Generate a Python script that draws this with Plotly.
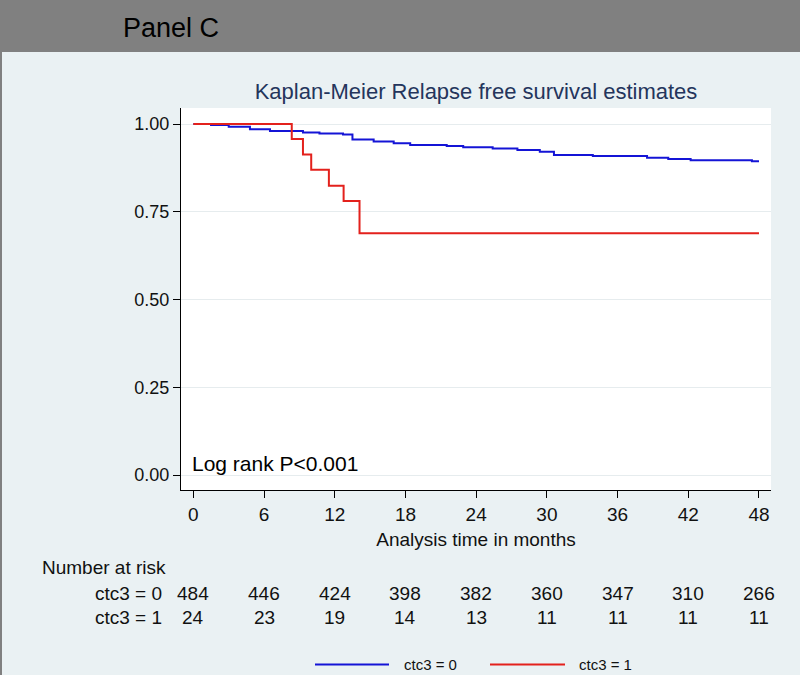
import plotly.graph_objects as go

# ---- data ----
blue_time = [0, 1.5, 3.0, 4.8, 6.5, 9.3, 10.7, 12.7, 13.5, 15.3, 17.0, 18.4, 21.5,
             22.9, 25.4, 27.5, 29.4, 30.6, 33.9, 38.5, 40.3, 42.2, 47.4, 48]
blue_surv = [1.0, 0.997, 0.992, 0.985, 0.980, 0.976, 0.973, 0.970, 0.956, 0.950,
             0.945, 0.940, 0.937, 0.934, 0.930, 0.926, 0.921, 0.912, 0.909, 0.904,
             0.900, 0.897, 0.894, 0.894]
red_time = [0, 8.35, 9.3, 10.0, 11.5, 12.75, 14.1, 48]
red_surv = [1.0, 0.957, 0.913, 0.870, 0.824, 0.781, 0.689, 0.689]

x_ticks = [0, 6, 12, 18, 24, 30, 36, 42, 48]
y_ticks = [0.0, 0.25, 0.5, 0.75, 1.0]
y_tick_labels = ["0.00", "0.25", "0.50", "0.75", "1.00"]
risk_group0 = [484, 446, 424, 398, 382, 360, 347, 310, 266]
risk_group1 = [24, 23, 19, 14, 13, 11, 11, 11, 11]
group_names = ["ctc3 = 0", "ctc3 = 1"]

BLUE = "#1414d6"
RED = "#e3211c"
FONT = "Liberation Sans, Arial, sans-serif"

fig = go.Figure()
fig.add_trace(go.Scatter(x=blue_time, y=blue_surv, mode="lines", line_shape="hv",
                         line=dict(color=BLUE, width=2), name=group_names[0],
                         showlegend=False))
fig.add_trace(go.Scatter(x=red_time, y=red_surv, mode="lines", line_shape="hv",
                         line=dict(color=RED, width=2), name=group_names[1],
                         showlegend=False))

W, H = 800, 675
L, R, T, B = 181, 29, 108, 185
pw, ph = W - L - R, H - T - B


def px(xp):
    return (xp - L) / pw


def py(yp):
    return (H - B - yp) / ph


annotations = []
shapes = []

# top gray band and left border
shapes.append(dict(type="rect", xref="paper", yref="paper", x0=px(-5), x1=px(805),
                   y0=py(52), y1=py(-5), fillcolor="#808080", line=dict(width=0),
                   layer="below"))
shapes.append(dict(type="rect", xref="paper", yref="paper", x0=px(-5), x1=px(2),
                   y0=py(680), y1=py(52), fillcolor="#808080", line=dict(width=0),
                   layer="below"))

annotations.append(dict(text="Panel C", xref="paper", yref="paper", x=px(121), y=py(28),
                        xanchor="left", yanchor="middle", showarrow=False,
                        font=dict(family=FONT, size=27, color="#000")))

annotations.append(dict(text="Log rank P<0.001", xref="paper", yref="paper", x=px(190),
                        y=py(463), xanchor="left", yanchor="middle", showarrow=False,
                        font=dict(family=FONT, size=21, color="#000")))

annotations.append(dict(text="Number at risk", xref="paper", yref="paper", x=px(40),
                        y=py(567), xanchor="left", yanchor="middle", showarrow=False,
                        font=dict(family=FONT, size=19, color="#111")))
for row_y, name, vals in [(593, group_names[0], risk_group0),
                          (617, group_names[1], risk_group1)]:
    annotations.append(dict(text=name, xref="paper", yref="paper", x=px(164),
                            y=py(row_y), xanchor="right", yanchor="middle",
                            showarrow=False, font=dict(family=FONT, size=19, color="#111")))
    for xt, v in zip(x_ticks, vals):
        annotations.append(dict(text=str(v), xref="x", yref="paper", x=xt,
                                y=py(row_y), xanchor="center", yanchor="middle",
                                showarrow=False,
                                font=dict(family=FONT, size=19, color="#111")))

# legend drawn manually
for (x0, x1, tx, col, name) in [(315, 389, 402, BLUE, group_names[0]),
                                (490, 565, 577, RED, group_names[1])]:
    shapes.append(dict(type="line", xref="paper", yref="paper", x0=px(x0), x1=px(x1),
                       y0=py(664.5), y1=py(664.5), line=dict(color=col, width=2)))
    annotations.append(dict(text=name, xref="paper", yref="paper", x=px(tx),
                            y=py(664.5), xanchor="left", yanchor="middle",
                            showarrow=False, font=dict(family=FONT, size=15, color="#111")))

fig.update_layout(
    width=W, height=H,
    margin=dict(l=L, r=R, t=T, b=B, pad=0),
    paper_bgcolor="#eaf1f3",
    plot_bgcolor="#ffffff",
    title=dict(text="Kaplan-Meier Relapse free survival estimates", x=px(476),
               xanchor="center", xref="paper", y=1 - 91 / H, yanchor="middle",
               font=dict(family=FONT, size=22, color="#24355c")),
    shapes=shapes,
    annotations=annotations,
    showlegend=False,
)
fig.update_xaxes(range=[-1.05, 49.02], tickvals=x_ticks, ticks="outside", ticklen=7,
                 tickcolor="#000", tickwidth=1, showline=True, linecolor="#000",
                 linewidth=1, showgrid=False, zeroline=False,
                 tickfont=dict(family=FONT, size=19, color="#111"),
                 title=dict(text="Analysis time in months", standoff=8,
                            font=dict(family=FONT, size=19, color="#111")))
fig.update_yaxes(range=[-0.0427, 1.0456], tickvals=y_ticks, ticktext=y_tick_labels,
                 ticks="outside", ticklen=7, tickcolor="#000", tickwidth=1,
                 showline=True, linecolor="#000", linewidth=1, showgrid=True,
                 gridcolor="#e6ecee", gridwidth=1, zeroline=False,
                 tickfont=dict(family=FONT, size=18, color="#111"))

fig.write_html("out.html", config={"displayModeBar": False},
               post_script="document.body.style.margin='0';document.body.style.overflow='hidden';")
